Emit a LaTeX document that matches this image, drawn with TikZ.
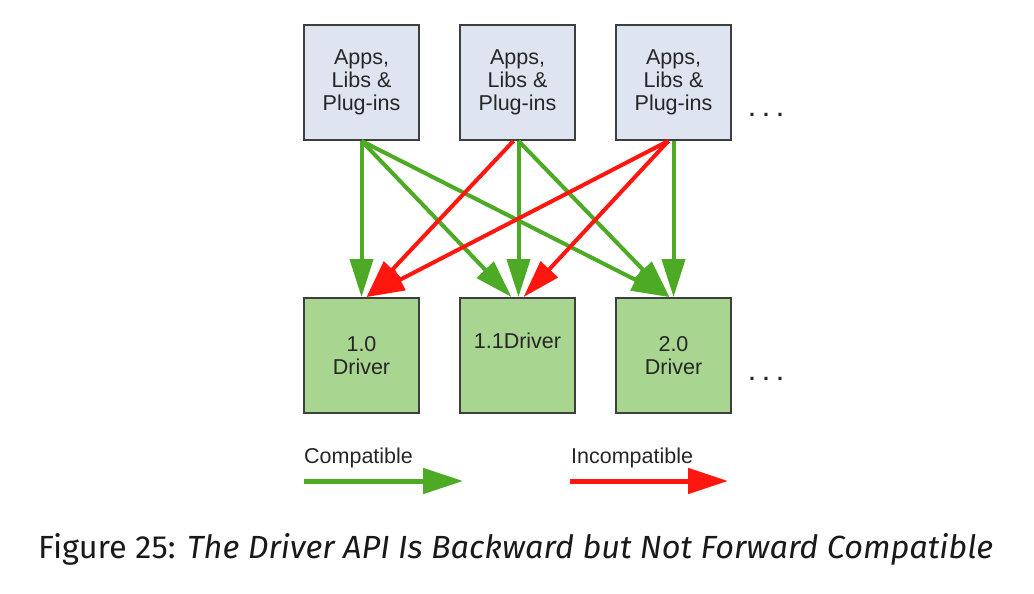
\documentclass[tikz,border=0pt]{standalone}
\usepackage{fontspec}
\setmainfont{Liberation Sans}
\newfontfamily\capfont{Fira Sans}
\usetikzlibrary{arrows.meta,calc}

\definecolor{appfill}{RGB}{222,228,240}
\definecolor{drvfill}{RGB}{168,214,145}
\definecolor{okgreen}{RGB}{76,170,36}
\definecolor{badred}{RGB}{255,22,14}
\definecolor{boxline}{RGB}{62,62,62}

\begin{document}
\begin{tikzpicture}[x=1pt, y=-1pt,
	appbox/.style={draw=boxline, line width=1.8pt, fill=appfill, minimum width=115pt, minimum height=115pt, inner sep=0pt, align=center, text=black!85, font=\fontsize{21.5}{23}\selectfont},
	drvbox/.style={appbox, fill=drvfill},
	okarrow/.style={draw=okgreen, line width=4pt, -{Triangle[length=38pt,width=23pt]}},
	badarrow/.style={okarrow, draw=badred},
	keyarrow/.style={line width=5pt, -{Triangle[length=40pt,width=25pt]}},
	plain/.style={inner sep=0pt, text=black!85, font=\fontsize{21.5}{23}\selectfont}]
			%%%%% START %%%%%
			\useasboundingbox (0, 0) rectangle (1034, 594);
			
			\node[appbox] (a1) at (361.5, 82.5) {Apps,\\Libs \&\\Plug-ins};
			\node[appbox] (a2) at (517.5, 82.5) {Apps,\\Libs \&\\Plug-ins};
			\node[appbox] (a3) at (673.5, 82.5) {Apps,\\Libs \&\\Plug-ins};
			\node[plain, anchor=base west] (dots1) at (749, 117) {\textbf{. . .}};
			
			\node[drvbox] (d1) at (361.5, 355.5) {1.0\\Driver};
			\node[drvbox] (d2) at (517.5, 355.5) {1.1Driver\\\strut};
			\node[drvbox] (d3) at (673.5, 355.5) {2.0\\Driver};
			\node[plain, anchor=base west] (dots2) at (749, 380) {\textbf{. . .}};
			
			% backward: green
			\draw[okarrow] (a1.south) -- (d1.north);
			\draw[okarrow] (a1.south) -- ($(d2.north)+(-6, 0)$);
			\draw[okarrow] (a1.south) -- ($(d3.north)+(-4, 0)$);
			\draw[okarrow] ($(a2.south)+(1, 0)$) -- ($(d2.north)+(1, 0)$);
			\draw[okarrow] ($(a2.south)+(1, 0)$) -- ($(d3.north)+(-4, 0)$);
			\draw[okarrow] (a3.south) -- (d3.north);
			
			% forward: red
			\draw[badarrow] ($(a2.south)+(-4, 0)$) -- ($(d1.north)+(5, 0)$);
			\draw[badarrow] ($(a3.south)+(-5, 0)$) -- ($(d1.north)+(5, 0)$);
			\draw[badarrow] ($(a3.south)+(-5, 0)$) -- ($(d2.north)+(6, 0)$);
			
			% key
			\node[plain, anchor=base west] (okkey) at (304, 463) {Compatible};
			\node[plain, anchor=base west] (badkey) at (571, 463) {Incompatible};
			\coordinate (okfrom) at (304, 481);
			\coordinate (okto) at (463, 481);
			\coordinate (badfrom) at (570, 481);
			\coordinate (badto) at (728, 481);
			\draw[keyarrow, okgreen] (okfrom) -- (okto);
			\draw[keyarrow, badred] (badfrom) -- (badto);
			
			\node[inner sep=0pt, anchor=base west, text=black!90] (caption) at (38, 558)
				{\resizebox{955pt}{25pt}{\capfont Figure 25: \textit{The Driver API Is Backward but Not Forward Compatible}}};
			%%%%% END %%%%%
\end{tikzpicture}
\end{document}
